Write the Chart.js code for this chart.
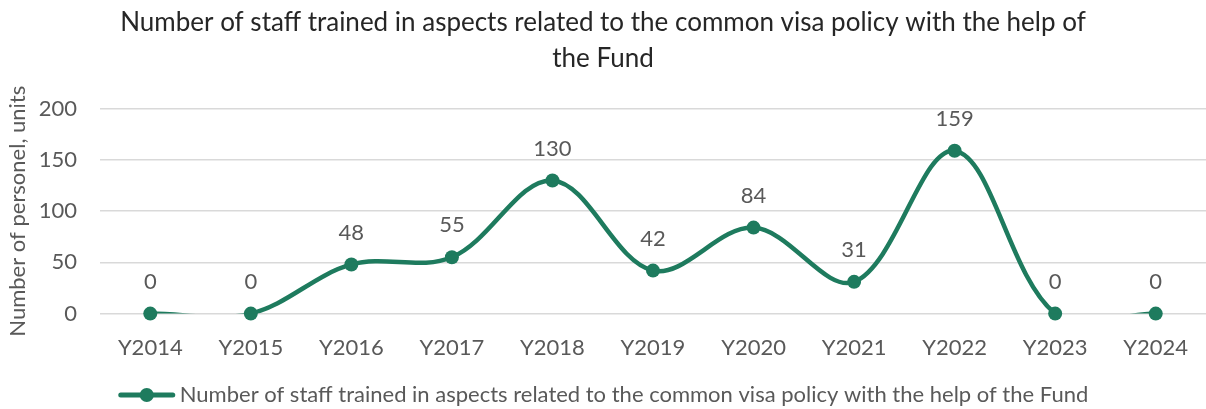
<!DOCTYPE html>
<html>
<head>
<meta charset="utf-8">
<script src="https://cdn.jsdelivr.net/npm/chart.js@4/dist/chart.umd.min.js"></script>
<style>
  html, body { margin: 0; padding: 0; background: #fff; overflow: hidden; }
  #wrap { width: 1206px; height: 409px; position: relative; }
</style>
</head>
<body>
<div id="wrap"><canvas id="visaChart"></canvas></div>
<script>
const years = ["Y2014", "Y2015", "Y2016", "Y2017", "Y2018", "Y2019", "Y2020", "Y2021", "Y2022", "Y2023", "Y2024"];
const trained = [0, 0, 48, 55, 130, 42, 84, 31, 159, 0, 0];
const yTicks = [0, 50, 100, 150, 200];

const seriesName = "Number of staff trained in aspects related to the common visa policy with the help of the Fund";
const green = "#1e7b5e";
const textGrey = "#595959";
const font = "Lato, 'Open Sans', sans-serif";

/* ---------- value labels above points + bottom legend ---------- */
const decorations = {
  id: "decorations",
  afterDatasetsDraw(chart) {
    const c = chart.ctx;
    const meta = chart.getDatasetMeta(0);
    c.save();
    c.font = "22px " + font;
    c.fillStyle = textGrey;
    c.textAlign = "center";
    c.textBaseline = "middle";
    meta.data.forEach((pt, i) => {
      c.fillText(String(trained[i]), pt.x, pt.y - 32);
    });
    c.restore();
  },
  afterDraw(chart) {
    const c = chart.ctx;
    c.save();
    c.font = "22px " + font;
    const tw = c.measureText(seriesName).width;
    const markW = 58, gap = 4;
    const x0 = (chart.width - (markW + gap + tw)) / 2;
    const y = 395;
    c.strokeStyle = green;
    c.lineWidth = 5;
    c.lineCap = "round";
    c.beginPath();
    c.moveTo(x0 + 3, y);
    c.lineTo(x0 + markW - 3, y);
    c.stroke();
    c.fillStyle = green;
    c.beginPath();
    c.arc(x0 + markW / 2, y, 7, 0, Math.PI * 2);
    c.fill();
    c.fillStyle = textGrey;
    c.textBaseline = "middle";
    c.fillText(seriesName, x0 + markW + gap, y);
    c.restore();
  },
};

const ctx = document.getElementById("visaChart").getContext("2d");

new Chart(ctx, {
  type: "line",
  data: {
    labels: years,
    datasets: [
      {
        // the smooth line, clipped to the plot area
        label: seriesName,
        data: trained,
        borderColor: green,
        backgroundColor: green,
        borderWidth: 4.5,
        tension: 0.35,
        pointRadius: 0,
        pointHoverRadius: 0,
      },
      {
        // markers, drawn unclipped so the zero points stay round
        label: seriesName + " markers",
        data: trained,
        showLine: false,
        clip: false,
        pointRadius: 7,
        pointHoverRadius: 7,
        pointBackgroundColor: green,
        pointBorderWidth: 0,
        pointStyle: "circle",
      },
    ],
  },
  options: {
    responsive: true,
    maintainAspectRatio: false,
    animation: false,
    elements: { line: { capBezierPoints: false } },
    layout: { autoPadding: false, padding: { left: 0, right: 0, top: 4, bottom: 35 } },
    plugins: {
      title: {
        display: true,
        text: ["Number of staff trained in aspects related to the common visa policy with the help of", "the Fund"],
        color: "#262626",
        font: { family: font, size: 26, weight: "normal", lineHeight: 1.4 },
        padding: { top: 0, bottom: 32 },
      },
      legend: { display: false },
      tooltip: { enabled: false },
    },
    scales: {
      x: {
        offset: true,
        grid: { display: false },
        border: { display: false },
        ticks: { color: textGrey, font: { family: font, size: 22 }, padding: 13, maxRotation: 0 },
        afterFit: (axis) => {
          axis.paddingLeft = 0;
          axis.paddingRight = 0;
        },
      },
      y: {
        min: 0,
        max: 200,
        afterBuildTicks: (axis) => { axis.ticks = yTicks.map(v => ({ value: v })); },
        afterFit: (axis) => { axis.width = 100; },
        grid: { color: "#d9d9d9", lineWidth: 1.5, drawTicks: false },
        border: { display: false },
        ticks: { color: textGrey, font: { family: font, size: 22 }, padding: 23 },
        title: {
          display: true,
          text: "Number of personel, units",
          color: textGrey,
          font: { family: font, size: 22 },
          padding: { top: 5, bottom: 0 },
        },
      },
    },
  },
  plugins: [decorations],
});
</script>
</body>
</html>
